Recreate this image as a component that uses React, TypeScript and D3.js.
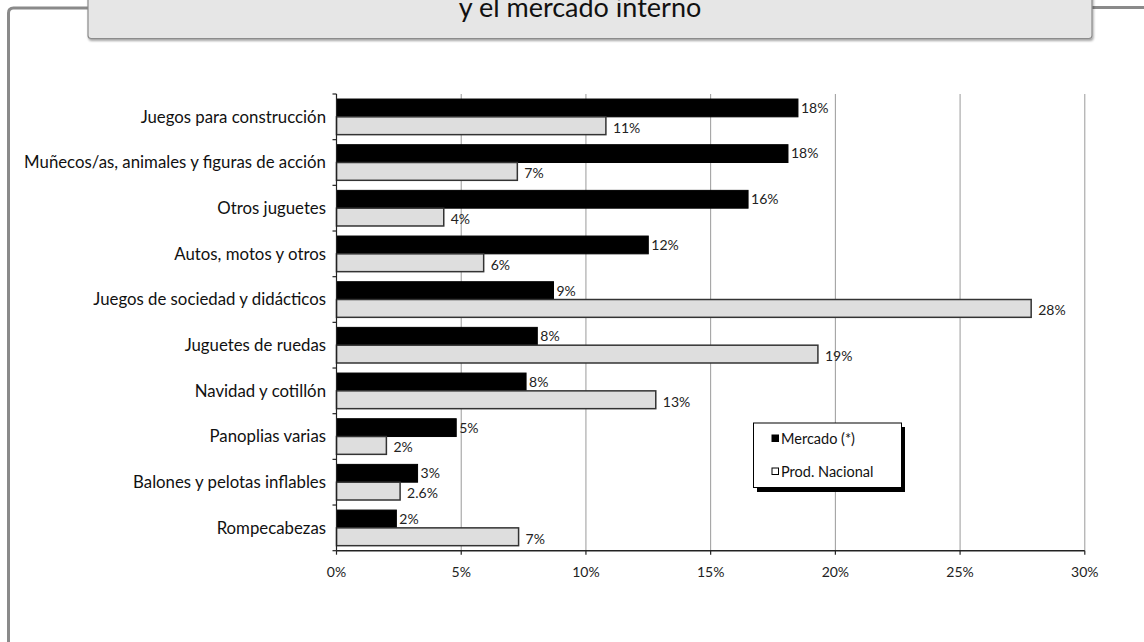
import React from "react";
import * as d3 from "d3";

const categories = [
  "Juegos para construcción",
  "Muñecos/as, animales y figuras de acción",
  "Otros juguetes",
  "Autos, motos y otros",
  "Juegos de sociedad y didácticos",
  "Juguetes de ruedas",
  "Navidad y cotillón",
  "Panoplias varias",
  "Balones y pelotas inflables",
  "Rompecabezas",
];
const mercado = [18.5, 18.1, 16.5, 12.5, 8.7, 8.05, 7.6, 4.8, 3.25, 2.4];
const mercadoLabels = ["18%", "18%", "16%", "12%", "9%", "8%", "8%", "5%", "3%", "2%"];
const nacional = [10.8, 7.25, 4.3, 5.9, 27.85, 19.3, 12.8, 2.0, 2.55, 7.3];
const nacionalLabels = ["11%", "7%", "4%", "6%", "28%", "19%", "13%", "2%", "2.6%", "7%"];
const xTicks = [0, 5, 10, 15, 20, 25, 30];
const seriesNames = ["Mercado (*)", "Prod. Nacional"];
const titleLine = "y el mercado interno";

const FONT = "Lato, 'Open Sans', sans-serif";

export default function App() {
  const W = 1144, H = 642;
  const left = 336.5, right = 1084.8, top = 94, bottom = 550.7;
  const x = d3.scaleLinear().domain([0, 30]).range([left, right]);
  const y = d3.scaleBand<string>().domain(categories).range([top, bottom]).padding(0);
  const bw = y.bandwidth();
  const barH = bw * 0.39;
  const off = (bw - 2 * barH) / 2;

  return (
    <svg width={W} height={H} style={{ position: "absolute", left: 0, top: 0, background: "#fff" }}>
      <defs>
        <filter id="sh" x="-5%" y="-20%" width="110%" height="160%">
          <feDropShadow dx="1" dy="2" stdDeviation="1" floodColor="#000" floodOpacity="0.35" />
        </filter>
      </defs>
      {/* frame */}
      <path d="M8.5,642 L8.5,13 Q8.5,8 13.5,8 L90,8" fill="none" stroke="#8a8a8a" strokeWidth={3} />
      <path d="M1090,7.5 L1144,7.5" fill="none" stroke="#8a8a8a" strokeWidth={3} />
      <rect x={88} y={-6} width={1004} height={44.5} rx={3} fill="#e6e6e6" stroke="#8c8c8c" strokeWidth={1.2} filter="url(#sh)" />
      <text x={580} y={16.5} textAnchor="middle" fontFamily={FONT} fontSize={27} fill="#111">{titleLine}</text>

      {/* gridlines */}
      {xTicks.slice(1).map((t) => (
        <line key={"g" + t} x1={x(t)} x2={x(t)} y1={top} y2={bottom} stroke="#9a9a9a" strokeWidth={1} />
      ))}

      {/* bars */}
      {categories.map((c, i) => {
        const y0 = (y(c) as number) + off;
        return (
          <g key={c}>
            <rect x={x(0)} y={y0} width={x(mercado[i]) - x(0)} height={barH} fill="#000" stroke="#000" strokeWidth={1} />
            <rect x={x(0)} y={y0 + barH} width={x(nacional[i]) - x(0)} height={barH} fill="#dedede" stroke="#333" strokeWidth={1.5} />
            <text x={x(mercado[i]) + 3} y={y0 + barH / 2} dy="0.35em" fontFamily={FONT} fontSize={14} fill="#222">{mercadoLabels[i]}</text>
            <text x={x(nacional[i]) + 7} y={y0 + barH * 1.5 + 2} dy="0.35em" fontFamily={FONT} fontSize={14} fill="#222">{nacionalLabels[i]}</text>
            <text x={326} y={(y(c) as number) + bw / 2} dy="0.35em" textAnchor="end" fontFamily={FONT} fontSize={16.8} fill="#111">{c}</text>
          </g>
        );
      })}

      {/* y axis */}
      <line x1={left} x2={left} y1={top} y2={bottom} stroke="#222" strokeWidth={1.2} />
      {categories.map((c) => (
        <line key={"yt" + c} x1={left - 4} x2={left} y1={y(c) as number} y2={y(c) as number} stroke="#222" strokeWidth={1.2} />
      ))}
      <line x1={left - 4} x2={left} y1={bottom} y2={bottom} stroke="#222" strokeWidth={1.2} />

      {/* x axis */}
      <line x1={left} x2={right} y1={bottom} y2={bottom} stroke="#222" strokeWidth={1.5} />
      {xTicks.map((t) => (
        <g key={"xt" + t}>
          <line x1={x(t)} x2={x(t)} y1={bottom} y2={bottom + 4} stroke="#222" strokeWidth={1.2} />
          <text x={x(t)} y={572} dy="0.35em" textAnchor="middle" fontFamily={FONT} fontSize={14} fill="#222">{t + "%"}</text>
        </g>
      ))}

      {/* legend */}
      <rect x={757} y={427} width={148} height={65} fill="#000" />
      <rect x={753.5} y={423} width={148} height={64.5} fill="#fff" stroke="#000" strokeWidth={1} />
      <rect x={772} y={435} width={6.5} height={6.5} fill="#000" stroke="#000" strokeWidth={1} />
      <text x={781} y={438.5} dy="0.35em" fontFamily={FONT} fontSize={14.5} fill="#111">{seriesNames[0]}</text>
      <rect x={772} y={468} width={6.5} height={6.5} fill="#fff" stroke="#000" strokeWidth={1} />
      <text x={781} y={471.5} dy="0.35em" fontFamily={FONT} fontSize={14.5} fill="#111">{seriesNames[1]}</text>
    </svg>
  );
}
